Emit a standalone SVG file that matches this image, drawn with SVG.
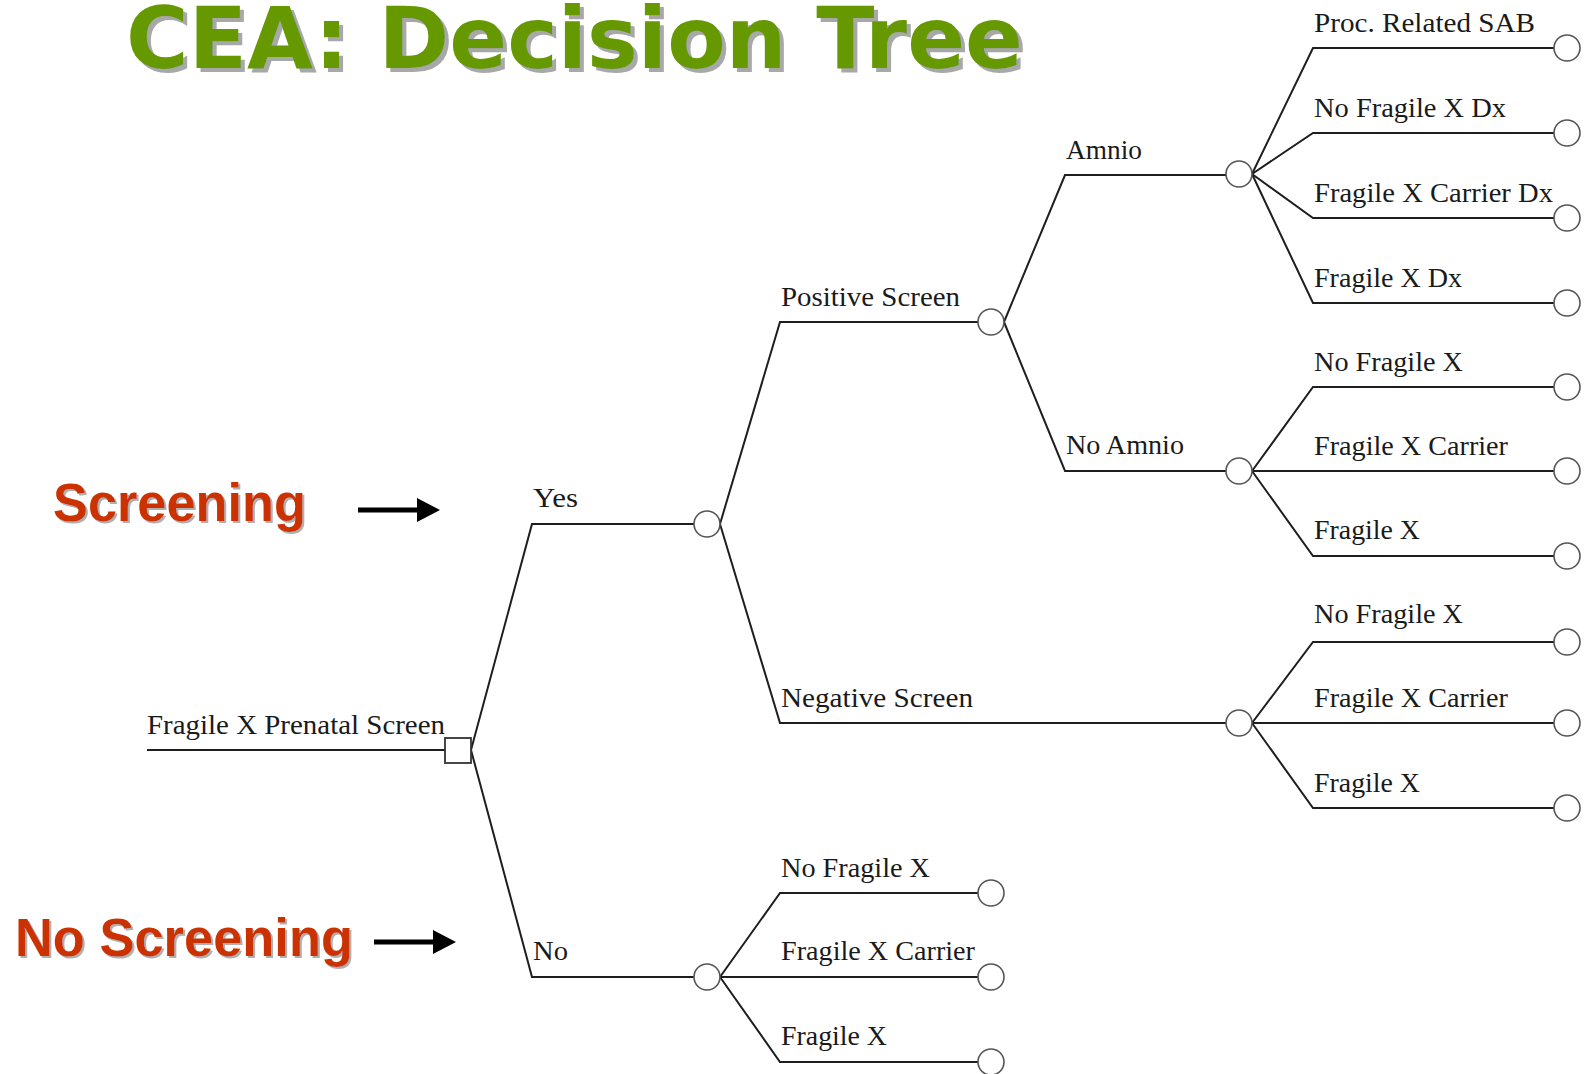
<svg xmlns="http://www.w3.org/2000/svg" width="1585" height="1074" viewBox="0 0 1585 1074">
<defs>
<style>
.lbl{font-family:"Liberation Serif","Times New Roman",serif;font-size:27px;fill:#1a1a1a;}
.ln{stroke:#1e1e1e;stroke-width:2;fill:none;}
.ch{stroke:#555;stroke-width:1.6;fill:#fff;}
.dec{stroke:#333;stroke-width:1.8;fill:#fff;}
.title{font-family:"DejaVu Sans",Verdana,sans-serif;font-weight:bold;font-size:85px;fill:#669900;}
.side{font-family:"Liberation Sans",Arial,sans-serif;font-weight:bold;font-size:53px;fill:#cc3300;}
</style>
<filter id="shadowBig" x="-5%" y="-20%" width="110%" height="140%">
<feDropShadow dx="4" dy="4" stdDeviation="0.6" flood-color="#a8a8a8" flood-opacity="1"/>
</filter>
<filter id="shadowSmall" x="-5%" y="-20%" width="110%" height="140%">
<feDropShadow dx="2" dy="2" stdDeviation="0.6" flood-color="#b0b0b0" flood-opacity="1"/>
</filter>
</defs>
<rect width="1585" height="1074" fill="#fff"/>

<g id="title">
<text class="title" x="126" y="68" filter="url(#shadowBig)" textLength="897" lengthAdjust="spacingAndGlyphs">CEA: Decision Tree</text>
</g>

<g id="screening-label">
<text class="side" x="53" y="521" filter="url(#shadowSmall)" textLength="253" lengthAdjust="spacingAndGlyphs">Screening</text>
<line x1="358" y1="510" x2="418" y2="510" stroke="#000" stroke-width="5"/>
<polygon points="417,498 440,510 417,522" fill="#000"/>
</g>

<g id="no-screening-label">
<text class="side" x="15" y="956" filter="url(#shadowSmall)" textLength="338" lengthAdjust="spacingAndGlyphs">No Screening</text>
<line x1="374" y1="942" x2="434" y2="942" stroke="#000" stroke-width="5"/>
<polygon points="433,930 456,942 433,954" fill="#000"/>
</g>

<g id="connectors">
<path class="ln" d="M147,750 H445"/>
<path class="ln" d="M471,750 L532,524 H694"/>
<path class="ln" d="M471,750 L532,977 H694"/>
<path class="ln" d="M720,524 L780,322 H978"/>
<path class="ln" d="M720,524 L780,723 H1226"/>
<path class="ln" d="M720,977 L780,893 H978"/>
<path class="ln" d="M720,977 L780,977 H978"/>
<path class="ln" d="M720,977 L780,1062 H978"/>
<path class="ln" d="M1004,322 L1065,175 H1226"/>
<path class="ln" d="M1004,322 L1065,471 H1226"/>
<path class="ln" d="M1252,174 L1313,48 H1554"/>
<path class="ln" d="M1252,174 L1313,133 H1554"/>
<path class="ln" d="M1252,174 L1313,218 H1554"/>
<path class="ln" d="M1252,174 L1313,303 H1554"/>
<path class="ln" d="M1252,471 L1313,387 H1554"/>
<path class="ln" d="M1252,471 L1313,471 H1554"/>
<path class="ln" d="M1252,471 L1313,556 H1554"/>
<path class="ln" d="M1252,723 L1313,642 H1554"/>
<path class="ln" d="M1252,723 L1313,723 H1554"/>
<path class="ln" d="M1252,723 L1313,808 H1554"/>
</g>

<g id="root">
<rect class="dec" x="445" y="738" width="26" height="25"/>
<text class="lbl" x="147" y="734" textLength="298" lengthAdjust="spacingAndGlyphs">Fragile X Prenatal Screen</text>
</g>

<g id="yes">
<text class="lbl" x="533" y="507" textLength="45" lengthAdjust="spacingAndGlyphs">Yes</text>
<circle class="ch" cx="707" cy="524" r="13"/>
</g>
<g id="no">
<text class="lbl" x="533" y="960" textLength="35" lengthAdjust="spacingAndGlyphs">No</text>
<circle class="ch" cx="707" cy="977" r="13"/>
</g>

<g id="positive-screen">
<text class="lbl" x="781" y="306" textLength="179" lengthAdjust="spacingAndGlyphs">Positive Screen</text>
<circle class="ch" cx="991" cy="322" r="13"/>
</g>
<g id="negative-screen">
<text class="lbl" x="781" y="707" textLength="192" lengthAdjust="spacingAndGlyphs">Negative Screen</text>
<circle class="ch" cx="1239" cy="723" r="13"/>
</g>

<g id="amnio">
<text class="lbl" x="1066" y="159" textLength="76" lengthAdjust="spacingAndGlyphs">Amnio</text>
<circle class="ch" cx="1239" cy="174" r="13"/>
</g>
<g id="no-amnio">
<text class="lbl" x="1066" y="454" textLength="118" lengthAdjust="spacingAndGlyphs">No Amnio</text>
<circle class="ch" cx="1239" cy="471" r="13"/>
</g>

<g id="t-proc-sab">
<text class="lbl" x="1314" y="32" textLength="221" lengthAdjust="spacingAndGlyphs">Proc. Related SAB</text>
<circle class="ch" cx="1567" cy="48" r="13"/>
</g>
<g id="t-no-fx-dx">
<text class="lbl" x="1314" y="117" textLength="192" lengthAdjust="spacingAndGlyphs">No Fragile X Dx</text>
<circle class="ch" cx="1567" cy="133" r="13"/>
</g>
<g id="t-fx-carrier-dx">
<text class="lbl" x="1314" y="202" textLength="239" lengthAdjust="spacingAndGlyphs">Fragile X Carrier Dx</text>
<circle class="ch" cx="1567" cy="218" r="13"/>
</g>
<g id="t-fx-dx">
<text class="lbl" x="1314" y="287" textLength="148" lengthAdjust="spacingAndGlyphs">Fragile X Dx</text>
<circle class="ch" cx="1567" cy="303" r="13"/>
</g>

<g id="t-na-no-fx">
<text class="lbl" x="1314" y="371" textLength="149" lengthAdjust="spacingAndGlyphs">No Fragile X</text>
<circle class="ch" cx="1567" cy="387" r="13"/>
</g>
<g id="t-na-fx-carrier">
<text class="lbl" x="1314" y="455" textLength="194" lengthAdjust="spacingAndGlyphs">Fragile X Carrier</text>
<circle class="ch" cx="1567" cy="471" r="13"/>
</g>
<g id="t-na-fx">
<text class="lbl" x="1314" y="539" textLength="106" lengthAdjust="spacingAndGlyphs">Fragile X</text>
<circle class="ch" cx="1567" cy="556" r="13"/>
</g>

<g id="t-neg-no-fx">
<text class="lbl" x="1314" y="623" textLength="149" lengthAdjust="spacingAndGlyphs">No Fragile X</text>
<circle class="ch" cx="1567" cy="642" r="13"/>
</g>
<g id="t-neg-fx-carrier">
<text class="lbl" x="1314" y="707" textLength="194" lengthAdjust="spacingAndGlyphs">Fragile X Carrier</text>
<circle class="ch" cx="1567" cy="723" r="13"/>
</g>
<g id="t-neg-fx">
<text class="lbl" x="1314" y="792" textLength="106" lengthAdjust="spacingAndGlyphs">Fragile X</text>
<circle class="ch" cx="1567" cy="808" r="13"/>
</g>

<g id="t-no-no-fx">
<text class="lbl" x="781" y="877" textLength="149" lengthAdjust="spacingAndGlyphs">No Fragile X</text>
<circle class="ch" cx="991" cy="893" r="13"/>
</g>
<g id="t-no-fx-carrier">
<text class="lbl" x="781" y="960" textLength="194" lengthAdjust="spacingAndGlyphs">Fragile X Carrier</text>
<circle class="ch" cx="991" cy="977" r="13"/>
</g>
<g id="t-no-fx">
<text class="lbl" x="781" y="1045" textLength="106" lengthAdjust="spacingAndGlyphs">Fragile X</text>
<circle class="ch" cx="991" cy="1062" r="13"/>
</g>
</svg>
